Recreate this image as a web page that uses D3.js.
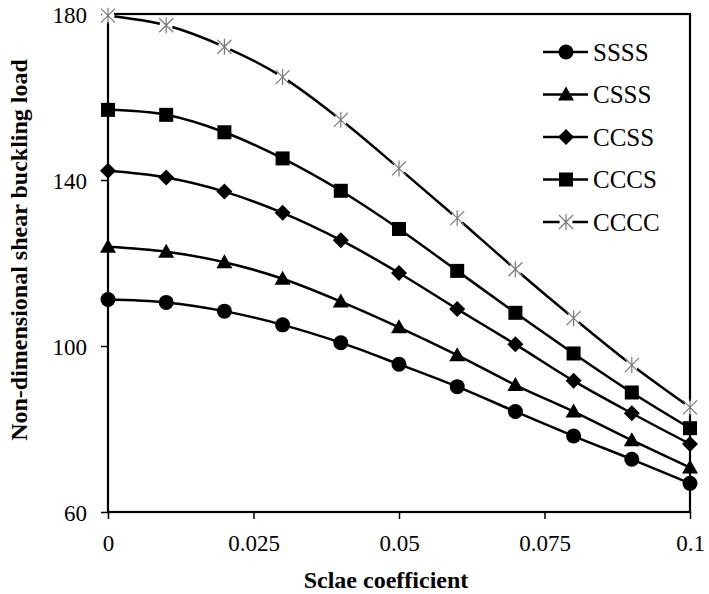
<!DOCTYPE html>
<html>
<head>
<meta charset="utf-8">
<script src="https://cdn.jsdelivr.net/npm/d3@7"></script>
<style>
  body { margin: 0; background: #fff; }
  svg text { font-family: "Times New Roman", "Liberation Serif", Tinos, "DejaVu Serif", serif; }
</style>
</head>
<body>
<svg id="chart" width="709" height="594"></svg>
<script>
'use strict';

// scale coefficient values (x)
var scaleCoef = [0, 0.01, 0.02, 0.03, 0.04, 0.05, 0.06, 0.07, 0.08, 0.09, 0.1];

// non-dimensional shear buckling load per boundary condition
var ssss = [111.2, 110.5, 108.4, 105.1, 100.8, 95.6, 90.2, 84.2, 78.3, 72.7, 66.9];
var csss = [123.9, 122.7, 120.2, 116.2, 110.7, 104.5, 97.8, 90.6, 84.2, 77.3, 70.7];
var ccss = [142.2, 140.6, 137.2, 132.1, 125.5, 117.6, 108.9, 100.4, 91.6, 83.8, 76.4];
var cccs = [156.9, 155.7, 151.5, 145.2, 137.4, 128.2, 118.1, 108.0, 98.2, 88.8, 80.2];
var cccc = [179.6, 177.3, 172.1, 164.8, 154.5, 142.8, 130.8, 118.5, 106.7, 95.4, 85.2];

var seriesNames = ['SSSS', 'CSSS', 'CCSS', 'CCCS', 'CCCC'];
var markerTypes = ['circle', 'triangle', 'diamond', 'square', 'star'];

var xTicks = [0, 0.025, 0.05, 0.075, 0.1];
var xTickLabels = ['0', '0.025', '0.05', '0.075', '0.1'];
var yTicks = [60, 100, 140, 180];

var series = [ssss, csss, ccss, cccs, cccc].map(function(vals, i) {
  return {
    name: seriesNames[i],
    marker: markerTypes[i],
    points: vals.map(function(v, j) { return { x: scaleCoef[j], y: v }; })
  };
});

var W = 709, H = 594,
    margin = { top: 14, right: 19, bottom: 82, left: 108 },
    w = W - margin.left - margin.right,
    h = H - margin.top - margin.bottom;

var svg = d3.select('#chart');
var g = svg.append('g').attr('transform', 'translate(' + margin.left + ',' + margin.top + ')');

var x = d3.scaleLinear().domain([0, 0.1]).range([0, w]);
var y = d3.scaleLinear().domain([60, 180]).range([h, 0]);

// marker drawing, centred at 0,0
function drawMarker(sel, type) {
  if (type === 'circle') {
    sel.append('circle').attr('r', 7.5).attr('fill', '#000');
  } else if (type === 'triangle') {
    sel.append('path').attr('d', 'M0,-8L8,6L-8,6Z').attr('fill', '#000');
  } else if (type === 'diamond') {
    sel.append('path').attr('d', 'M0,-8L8,0L0,8L-8,0Z').attr('fill', '#000');
  } else if (type === 'square') {
    sel.append('rect').attr('x', -7).attr('y', -7).attr('width', 14).attr('height', 14).attr('fill', '#000');
  } else if (type === 'star') {
    // white patch so the line breaks around the star, as in the original
    sel.append('circle').attr('r', 6.5).attr('fill', '#fff');
    sel.append('path')
      .attr('d', 'M0,-8V8M-7,-7L7,7M-7,7L7,-7')
      .attr('stroke', '#7a7a7a').attr('stroke-width', 1.2).attr('fill', 'none');
  }
}

// axes
var yAxis = d3.axisLeft(y).tickValues(yTicks).tickSize(7).tickPadding(14);
var xAxis = d3.axisBottom(x).tickValues(xTicks).tickSize(7).tickPadding(16)
  .tickFormat(function(d, i) { return xTickLabels[i]; });

var gy = g.append('g').call(yAxis);
var gx = g.append('g').attr('transform', 'translate(0,' + h + ')').call(xAxis);

[gx, gy].forEach(function(a) {
  a.attr('font-family', null).attr('font-size', null);
  a.select('.domain').remove();
  a.selectAll('line').attr('stroke', '#000').attr('stroke-width', 1.5);
  a.selectAll('text').attr('fill', '#000').style('font-size', '23px');
});
gy.selectAll('text').attr('dy', '0.35em');

// frame
g.append('rect').attr('width', w).attr('height', h)
  .attr('fill', 'none').attr('stroke', '#000').attr('stroke-width', 2.2);

// lines and markers
var line = d3.line()
  .x(function(d) { return x(d.x); })
  .y(function(d) { return y(d.y); })
  .curve(d3.curveCatmullRom.alpha(0));

var sg = g.selectAll('g.series').data(series).enter().append('g').attr('class', 'series');

sg.append('path')
  .attr('d', function(d) { return line(d.points); })
  .attr('fill', 'none').attr('stroke', '#000').attr('stroke-width', 2.5);

sg.each(function(s) {
  d3.select(this).selectAll('g.pt').data(s.points).enter().append('g')
    .attr('class', 'pt')
    .attr('transform', function(d) { return 'translate(' + x(d.x) + ',' + y(d.y) + ')'; })
    .each(function() { drawMarker(d3.select(this), s.marker); });
});

// legend
var legend = svg.append('g').attr('transform', 'translate(543,52)');
var rows = legend.selectAll('g').data(series).enter().append('g')
  .attr('transform', function(d, i) { return 'translate(0,' + (i * 42.5) + ')'; });
rows.append('line').attr('x1', 0).attr('x2', 45).attr('stroke', '#000').attr('stroke-width', 2.5);
rows.each(function(s) {
  var m = d3.select(this).append('g').attr('transform', 'translate(23,0)');
  drawMarker(m, s.marker);
});
rows.append('text').attr('x', 50).attr('dy', '0.35em')
  .style('font-size', '25px').attr('fill', '#000')
  .text(function(d) { return d.name; });

// axis titles
svg.append('text')
  .attr('transform', 'translate(27,250) rotate(-90)')
  .attr('text-anchor', 'middle')
  .style('font-size', '24px').style('font-weight', 'bold')
  .text('Non-dimensional shear buckling load');

svg.append('text')
  .attr('x', 386).attr('y', 588)
  .attr('text-anchor', 'middle')
  .style('font-size', '24px').style('font-weight', 'bold')
  .text('Sclae coefficient');
</script>
</body>
</html>
